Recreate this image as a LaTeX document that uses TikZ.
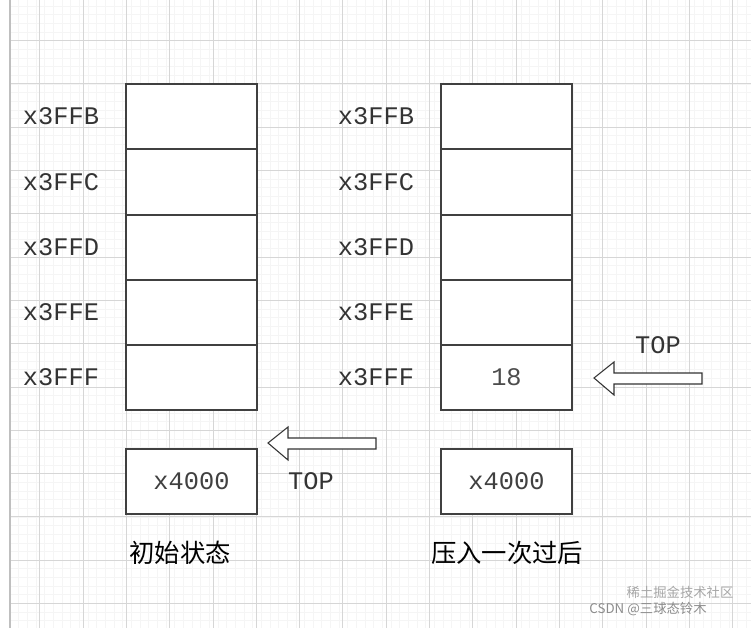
\documentclass[tikz,border=0pt]{standalone}
\usepackage{fontspec}
\setmonofont{Liberation Mono}
\newfontfamily\cjk{Noto Sans CJK SC}
\begin{document}
\begin{tikzpicture}[x=0.75pt,y=-0.75pt,
  cell/.style={draw=black!75,line width=0.9pt,fill=white,minimum width=131*0.75pt,minimum height=65*0.75pt,inner sep=0pt,font=\ttfamily\fontsize{19}{19}\selectfont,text=black!75},
  addr/.style={font=\ttfamily\fontsize{19}{19}\selectfont,text=black!80},
  captext/.style={font=\cjk\fontsize{19}{19}\selectfont},
  fatarrow/.style={draw=black!80,line width=0.8pt,fill=white}]
\useasboundingbox (0,0) rectangle (751,628);
\fill[white] (0,0) rectangle (751,628);
\foreach \i in {0,...,86} {\draw[black!4,line width=0.4pt] ({10+8.66*\i},0) -- ({10+8.66*\i},628);}
\foreach \i in {0,...,73} {\draw[black!4,line width=0.4pt] (10,{ -2.8+8.66*\i}) -- (751,{-2.8+8.66*\i});}
\foreach \i in {0,...,16} {\draw[black!16,line width=0.5pt] ({39.7+43.3*\i},0) -- ({39.7+43.3*\i},628);}
\foreach \i in {0,...,14} {\draw[black!16,line width=0.5pt] (10,{40.5+43.3*\i}) -- (751,{40.5+43.3*\i});}
\draw[black!25,line width=0.8pt] (10,0) -- (10,628);
\foreach \n/\y/\t in {a/116.5/x3FFB,b/182/x3FFC,c/247.5/x3FFD,d/312.5/x3FFE,e/377.5/x3FFF}{
  \node[cell] (L\n) at (191.5,\y) {};
  \node[addr] (LA\n) at (61,\y) {\t};
  \node[cell] (R\n) at (506.5,\y) {};
  \node[addr] (RA\n) at (376,\y) {\t};
}
\node[addr,text=black!70] (v18) at (Re) {18};
\node[cell] (L4) at (191.5,481.5) {x4000};
\node[cell] (R4) at (506.5,481.5) {x4000};
\coordinate (lt) at (268,443);
\draw[fatarrow] (lt) -- (288,427) -- (288,438) -- (376,438) -- (376,449) -- (288,449) -- (288,460) -- cycle;
\coordinate (rt) at (594,378);
\draw[fatarrow] (rt) -- (614,362) -- (614,373) -- (702,373) -- (702,384) -- (614,384) -- (614,395) -- cycle;
\node[addr] (ltop) at (311,481) {TOP};
\node[addr] (rtop) at (658,345) {TOP};
\node[captext] (c1) at (180,553) {初始状态};
\node[captext] (c2) at (507,553) {压入一次过后};
\node[font=\cjk\fontsize{10}{10}\selectfont,text=black!35] (wm1) at (680,592) {稀土掘金技术社区};
\node[font=\cjk\fontsize{10}{10}\selectfont,text=black!45] (wm2) at (648,609) {CSDN @三球态铃木};
\end{tikzpicture}
\end{document}
